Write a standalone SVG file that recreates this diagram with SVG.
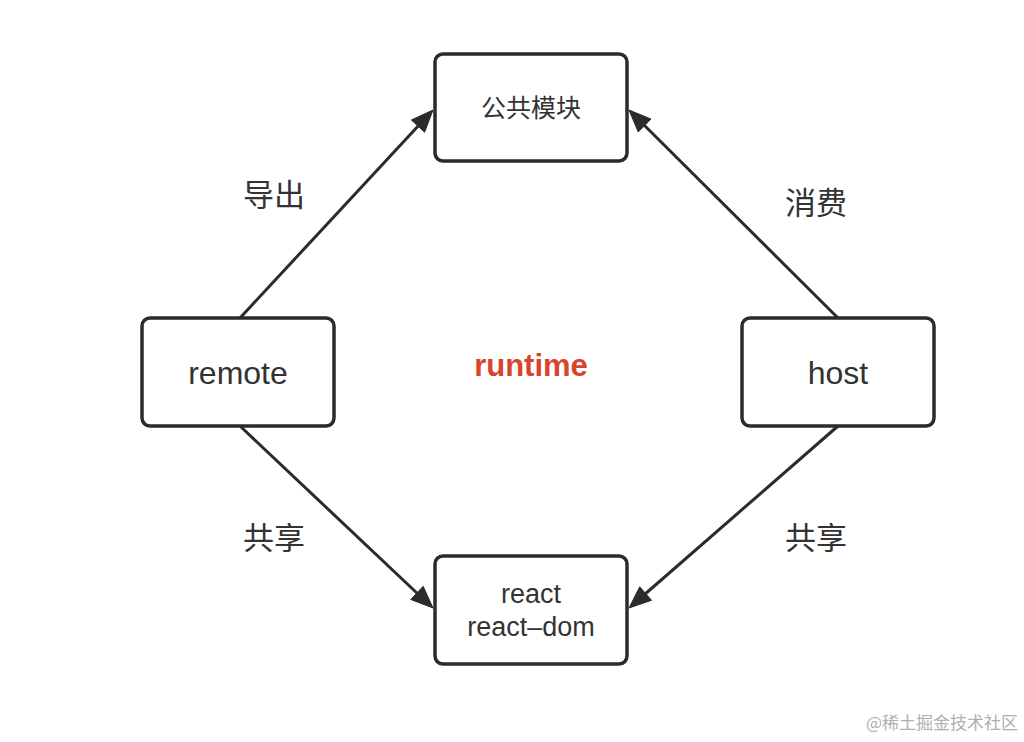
<svg xmlns="http://www.w3.org/2000/svg" width="1024" height="742" viewBox="0 0 1024 742">
<style>
.box{fill:#fff;stroke:#2b2b2b;stroke-width:3.5}
.t{font-family:"Liberation Sans","Noto Sans CJK SC",sans-serif;fill:#333;text-anchor:middle}
.c{font-family:"Noto Sans CJK SC",sans-serif;fill:#333;text-anchor:middle}
.edge{stroke:#2b2b2b;stroke-width:3;fill:none}
.head{fill:#2b2b2b;stroke:#2b2b2b;stroke-width:1;stroke-linejoin:miter}
</style>
<rect width="1024" height="742" fill="#fff"/>
<g id="connectors">
<line class="edge" x1="240" y1="318" x2="420" y2="124"/>
<polygon class="head" points="433,110 411.4,120 424.6,132.2"/>
<line class="edge" x1="838" y1="318" x2="643" y2="124"/>
<polygon class="head" points="629,110 651,119.1 638.2,131.9"/>
<line class="edge" x1="240" y1="426" x2="419" y2="595"/>
<polygon class="head" points="433,608 410.8,599.5 423.2,586.3"/>
<line class="edge" x1="838" y1="426" x2="644" y2="595"/>
<polygon class="head" points="629,608 651.5,600.3 639.7,586.8"/>
<text class="c" x="274" y="206" font-size="31">导出</text>
<text class="c" x="816" y="214" font-size="31">消费</text>
<text class="c" x="274" y="549" font-size="31">共享</text>
<text class="c" x="816" y="549" font-size="31">共享</text>
</g>
<g id="common">
<rect class="box" x="435" y="54" width="192" height="107" rx="8"/>
<text class="c" x="531" y="117" font-size="25">公共模块</text>
</g>
<g id="remote">
<rect class="box" x="142" y="318" width="192" height="108" rx="8"/>
<text class="t" x="238" y="384" font-size="32">remote</text>
</g>
<g id="host">
<rect class="box" x="742" y="318" width="192" height="108" rx="8"/>
<text class="t" x="838" y="384" font-size="32">host</text>
</g>
<g id="react">
<rect class="box" x="435" y="556" width="192" height="108" rx="8"/>
<text class="t" x="531" y="603" font-size="27">react</text>
<text class="t" x="531" y="636" font-size="27">react–dom</text>
</g>
<g id="runtime">
<text x="531" y="376" font-family="'Liberation Sans',sans-serif" font-size="31" font-weight="bold" fill="#d6452d" text-anchor="middle">runtime</text>
</g>
<text x="1018" y="729" font-family="'Noto Sans CJK SC',sans-serif" font-size="17" fill="#b0b0b0" text-anchor="end">@稀土掘金技术社区</text>
</svg>
